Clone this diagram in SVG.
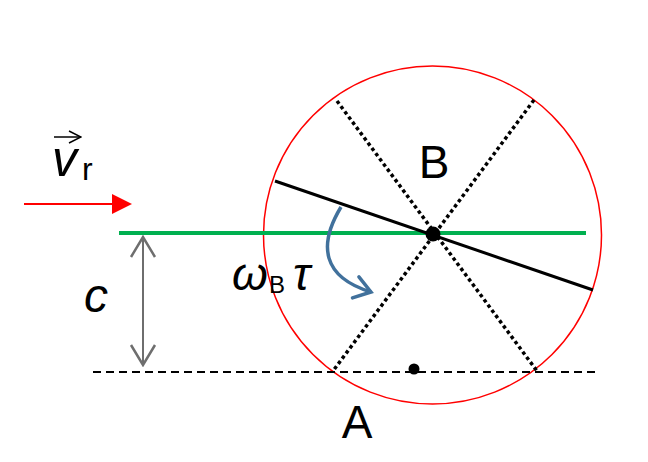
<svg xmlns="http://www.w3.org/2000/svg" width="648" height="462" viewBox="0 0 648 462">
<style>
.lbl{font-family:"Liberation Sans",Arial,sans-serif;fill:#000}
.it{font-style:italic}
.dot{stroke:#000;stroke-width:3.5;stroke-dasharray:3.5 3;fill:none}
</style>
<defs>
<marker id="open" markerWidth="14" markerHeight="14" refX="13" refY="7" orient="auto" markerUnits="userSpaceOnUse" viewBox="0 0 14 14">
<path d="M1,1 L13,7 L1,13" fill="none" stroke="#000" stroke-width="1.5"/>
</marker>
<marker id="grayhead" markerWidth="28" markerHeight="28" refX="26" refY="14" orient="auto-start-reverse" markerUnits="userSpaceOnUse" viewBox="0 0 28 28">
<path d="M6,2 L26,14 L6,26" fill="none" stroke="#6e6e6e" stroke-width="2.5"/>
</marker>
<marker id="bluehead" markerWidth="28" markerHeight="28" refX="24" refY="14" orient="auto" markerUnits="userSpaceOnUse" viewBox="0 0 28 28">
<path d="M8,3 L24,14 L8,25" fill="none" stroke="#41719c" stroke-width="3.5" stroke-linecap="round"/>
</marker>
</defs>
<rect width="648" height="462" fill="#fff"/>
<g id="wheel">
<circle cx="432.5" cy="235" r="169" fill="none" stroke="#ff0000" stroke-width="1.5"/>
</g>
<g id="connectors">
<line x1="337" y1="101" x2="537" y2="371" class="dot"/>
<line x1="534" y1="100" x2="333" y2="371" class="dot"/>
<line x1="93" y1="372" x2="597" y2="372" stroke="#000" stroke-width="2.2" stroke-dasharray="8 5"/>
<line x1="119" y1="233" x2="586" y2="233" stroke="#00b050" stroke-width="4"/>
<line x1="275" y1="181" x2="593" y2="290" stroke="#000" stroke-width="3"/>
<line x1="24" y1="204" x2="114" y2="204" stroke="#ff0000" stroke-width="2"/>
<path d="M112,194 L132,204 L112,214 Z" fill="#ff0000"/>
<line x1="143" y1="237" x2="143" y2="365" stroke="#6e6e6e" stroke-width="2" marker-start="url(#grayhead)" marker-end="url(#grayhead)"/>
<path d="M341,207 C318,245 322,277 371,292" fill="none" stroke="#41719c" stroke-width="3.5" marker-end="url(#bluehead)"/>
<line x1="54" y1="137" x2="81" y2="137" stroke="#000" stroke-width="1.5" marker-end="url(#open)"/>
</g>
<g id="pointB">
<circle cx="433" cy="234" r="7.5" fill="#000"/>
<text x="434" y="178" class="lbl" font-size="46" text-anchor="middle">B</text>
</g>
<g id="pointA">
<circle cx="414" cy="369" r="5.5" fill="#000"/>
<text x="357" y="438" class="lbl" font-size="46" text-anchor="middle">A</text>
</g>
<g id="labels">
<text x="52" y="176" class="lbl it" font-size="50">v</text>
<text x="82" y="180" class="lbl" font-size="32">r</text>
<text x="84" y="312" class="lbl it" font-size="48">c</text>
<text x="232" y="290" class="lbl it" font-size="46">ω</text>
<text x="269" y="293" class="lbl" font-size="24">B</text>
<text x="293" y="290" class="lbl it" font-size="46">τ</text>
</g>
</svg>
